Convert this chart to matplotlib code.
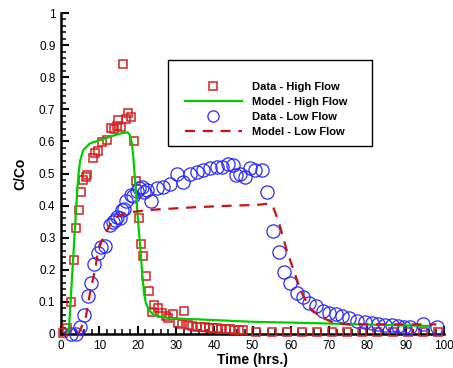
import matplotlib
matplotlib.use("Agg")
import matplotlib.pyplot as plt
from matplotlib.patches import Rectangle
from matplotlib.ticker import MultipleLocator

plt.rcParams['font.family'] = ['Liberation Sans', 'DejaVu Sans']

# High flow data
hf_t = [0.5, 1.6, 2.5, 3.3, 3.9, 4.7, 5.3, 5.8, 6.5, 6.9, 8.3, 8.9, 9.6, 10.8, 11.9,
        13.1, 13.9, 14.5, 14.9, 15.7, 16.3, 17.0, 17.6, 18.3, 19.1, 19.6, 20.3, 20.8,
        21.5, 22.1, 23.0, 23.7, 24.2, 25.3, 26.4, 27.4, 28.0, 29.3, 30.6, 31.5, 32.0,
        33.2, 34.3, 35.4, 36.5, 37.6, 38.6, 39.7, 40.8, 41.9, 43.0, 44.1, 45.2, 46.4,
        47.5, 50.9, 55.0, 58.9, 62.9, 66.9, 70.8, 74.8, 78.7, 82.6, 86.6, 90.6, 94.5, 98.4]
hf_c = [0.003, 0.02, 0.10, 0.23, 0.33, 0.385, 0.443, 0.48, 0.488, 0.495, 0.547, 0.565,
        0.57, 0.599, 0.604, 0.641, 0.638, 0.648, 0.667, 0.644, 0.84, 0.67, 0.689, 0.677,
        0.60, 0.477, 0.36, 0.28, 0.243, 0.18, 0.135, 0.068, 0.09, 0.082, 0.064, 0.057,
        0.049, 0.062, 0.033, 0.03, 0.072, 0.027, 0.025, 0.023, 0.022, 0.021, 0.02, 0.019,
        0.018, 0.017, 0.016, 0.015, 0.014, 0.013, 0.012, 0.007, 0.007, 0.007, 0.006,
        0.006, 0.006, 0.005, 0.005, 0.005, 0.005, 0.005, 0.005, 0.005]

# High flow model
hm_t = [1.5, 1.9, 2.2, 2.8, 3.5, 4.2, 4.6, 5.0, 5.8, 7.6, 10.2, 13.7, 16.0, 17.4, 18.0,
        18.5, 18.9, 19.2, 19.7, 20.2, 20.7, 21.2, 21.7, 22.2, 23.0, 24.0, 25.0, 28.5,
        35.0, 50.0, 62.0, 72.0, 85.0, 96.0]
hm_c = [0.0, 0.005, 0.04, 0.16, 0.30, 0.44, 0.50, 0.54, 0.573, 0.594, 0.604, 0.618,
        0.626, 0.628, 0.62, 0.595, 0.55, 0.50, 0.42, 0.34, 0.27, 0.19, 0.125, 0.095,
        0.073, 0.062, 0.056, 0.049, 0.046, 0.038, 0.035, 0.032, 0.028, 0.025]

# Low flow data
lf_t = [2.7, 3.9, 5.0, 6.0, 7.1, 7.8, 8.6, 9.6, 10.4, 11.4, 12.9, 13.7, 14.2, 14.6, 15.4,
        15.8, 16.5, 17.1, 18.2, 18.9, 19.8, 20.4, 21.1, 21.6, 22.4, 23.4, 25.0, 26.7,
        28.5, 30.2, 31.9, 33.7, 35.4, 37.2, 38.9, 40.7, 42.0, 43.5, 45.0, 45.6, 46.7,
        48.0, 49.3, 50.7, 52.4, 53.9, 55.3, 57.0, 58.2, 59.8, 61.5, 63.1, 64.8, 66.5,
        68.3, 70.0, 71.8, 73.4, 75.1, 77.2, 79.4, 81.1, 82.8, 84.6, 86.3, 88.1, 89.6,
        91.1, 94.4, 98.1]
lf_c = [0.0, 0.0, 0.023, 0.058, 0.118, 0.16, 0.217, 0.251, 0.272, 0.275, 0.34, 0.35,
        0.355, 0.366, 0.36, 0.386, 0.39, 0.415, 0.433, 0.43, 0.446, 0.454, 0.459, 0.443,
        0.449, 0.415, 0.455, 0.457, 0.467, 0.498, 0.475, 0.50, 0.506, 0.511, 0.516,
        0.519, 0.52, 0.53, 0.526, 0.495, 0.50, 0.49, 0.516, 0.511, 0.511, 0.443, 0.322,
        0.254, 0.194, 0.16, 0.127, 0.114, 0.096, 0.088, 0.072, 0.065, 0.062, 0.056,
        0.05, 0.041, 0.038, 0.033, 0.031, 0.028, 0.028, 0.025, 0.023, 0.023, 0.031, 0.021]

# Low flow model
lm_t = [4.5, 5.5, 6.5, 7.7, 8.9, 9.7, 11.0, 12.8, 14.5, 17.2, 20.6, 25.0, 35.0, 45.0,
        51.0, 54.0, 55.3, 56.2, 57.2, 58.9, 60.7, 62.6, 64.8, 67.6, 71.0, 74.0, 80.0,
        90.0, 98.0]
lm_c = [0.0, 0.025, 0.054, 0.137, 0.20, 0.26, 0.30, 0.34, 0.365, 0.378, 0.383, 0.388,
        0.395, 0.400, 0.402, 0.406, 0.398, 0.37, 0.335, 0.262, 0.20, 0.135, 0.083, 0.054,
        0.036, 0.031, 0.03, 0.03, 0.03]

x_ticks = [0, 10, 20, 30, 40, 50, 60, 70, 80, 90, 100]
y_ticks = [0, 0.1, 0.2, 0.3, 0.4, 0.5, 0.6, 0.7, 0.8, 0.9, 1]
y_tick_labels = ['0', '0.1', '0.2', '0.3', '0.4', '0.5', '0.6', '0.7', '0.8', '0.9', '1']

fig = plt.figure(figsize=(4.53, 3.68), dpi=100)
ax = fig.add_axes([61/453, 1 - 334/368, (444 - 61)/453, (334 - 13)/368])

red = '#d42020'
blue = '#2a2aff'
green = '#00cc00'

ax.plot(hf_t, hf_c, ls='none', marker='s', ms=6, mfc='none', mec=red, mew=1.1,
        clip_on=False, label='Data - High Flow', zorder=3)
ax.plot(hm_t, hm_c, color=green, lw=1.6, label='Model - High Flow', zorder=4)
ax.plot(lf_t, lf_c, ls='none', marker='o', ms=9.5, mfc='none', mec=blue, mew=0.9,
        clip_on=False, label='Data - Low Flow', zorder=3)
ax.plot(lm_t, lm_c, color='#cc1111', lw=1.6, ls=(0, (4.5, 3.5)), label='Model - Low Flow',
        zorder=4)

ax.set_xlim(0, 100)
ax.set_ylim(0, 1)
ax.set_xticks(x_ticks)
ax.set_yticks(y_ticks)
ax.set_yticklabels(y_tick_labels)
ax.xaxis.set_minor_locator(MultipleLocator(2))
ax.yaxis.set_minor_locator(MultipleLocator(0.02))
for s in ['top', 'right']:
    ax.spines[s].set_visible(False)
for s in ['left', 'bottom']:
    ax.spines[s].set_linewidth(1.8)
ax.tick_params(which='major', direction='in', length=6, width=1.5, labelsize=8.5, pad=4,
               colors='black')
ax.tick_params(which='minor', direction='in', length=3.5, width=1.1)

ax.set_xlabel('Time (hrs.)', fontsize=10, fontweight='bold', labelpad=1)
ax.set_ylabel('C/Co', fontsize=10, fontweight='bold', labelpad=8)

fig.patches.append(Rectangle((168/453, 1 - 146/368), 204/453, 86/368,
                             transform=fig.transFigure, fill=False, ec='black', lw=1.0))
leg = ax.legend(loc='upper left', bbox_to_anchor=(185/453, 1 - 82/368),
                bbox_transform=fig.transFigure, frameon=False, numpoints=1,
                handlelength=5.1, handletextpad=0.9, labelspacing=0.46, borderpad=0,
                borderaxespad=0, markerscale=0.85, prop={'weight': 'bold', 'size': 8})

fig.savefig('out.png', dpi=100)
